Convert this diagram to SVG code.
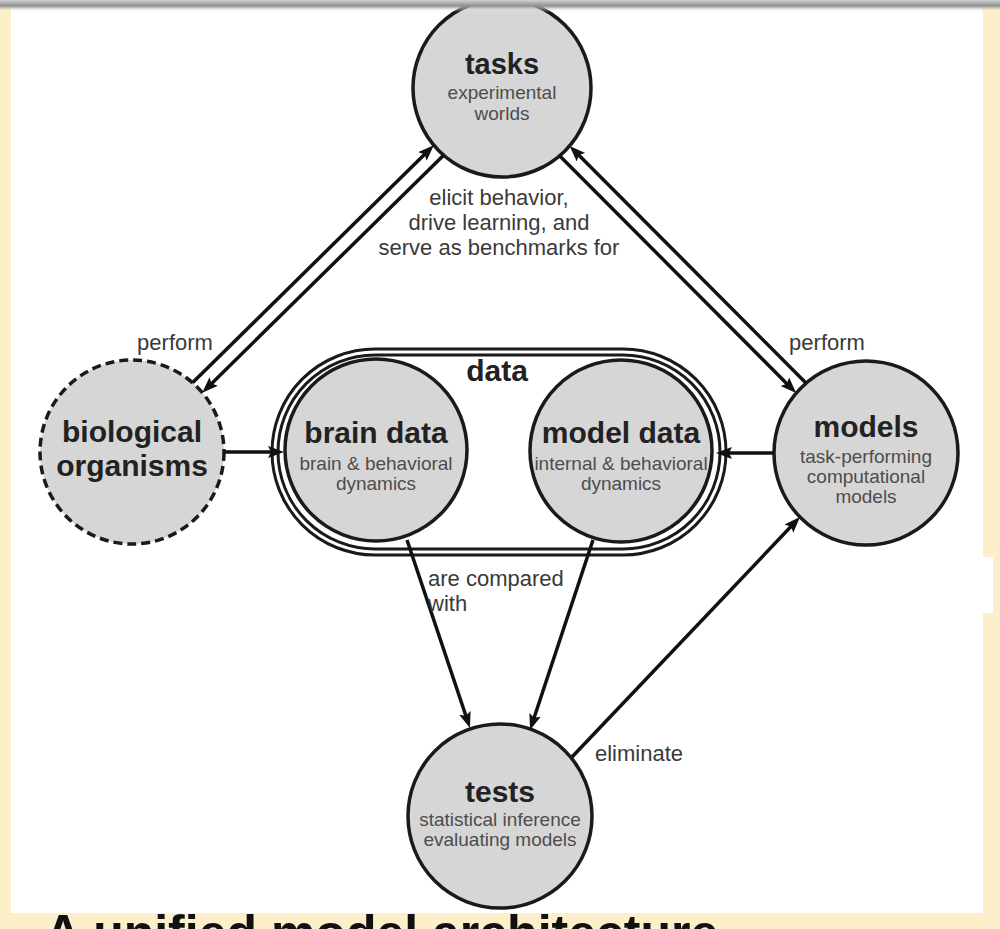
<svg xmlns="http://www.w3.org/2000/svg" width="1000" height="929" viewBox="0 0 1000 929">
  <defs>
    <linearGradient id="topbar" x1="0" y1="0" x2="0" y2="1">
      <stop offset="0" stop-color="#cfcfcf"/>
      <stop offset="0.5" stop-color="#8f8f8f"/>
      <stop offset="1" stop-color="#ffffff" stop-opacity="0"/>
    </linearGradient>
    <marker id="arr" markerUnits="userSpaceOnUse" markerWidth="18" markerHeight="14" refX="6" refY="6" orient="auto">
      <path d="M0,0 L16,6 L0,12 L3,6 z" fill="#111"/>
    </marker>
    <style>
      .node { fill: #d6d6d6; stroke: #1a1a1a; stroke-width: 3.5; }
      .dashed { stroke-dasharray: 9 5; }
      .title { font-family: "Liberation Sans", Arial, sans-serif; font-weight: bold; font-size: 30px; fill: #222; text-anchor: middle; }
      .sub { font-family: "Liberation Sans", Arial, sans-serif; font-size: 19px; fill: #4d4d4d; text-anchor: middle; }
      .lbl { font-family: "Liberation Sans", Arial, sans-serif; font-size: 22px; fill: #3a3a3a; }
      .conn { stroke: #111; stroke-width: 3.5; fill: none; marker-end: url(#arr); }
    </style>
  </defs>

  <!-- background -->
  <rect x="0" y="0" width="1000" height="929" fill="#fcefc9"/>
  <rect x="11" y="0" width="972" height="913" fill="#ffffff"/>
  <rect x="983" y="557" width="10" height="56" fill="#ffffff"/>

  <!-- data container -->
  <g id="data">
    <rect x="275" y="352" width="448" height="200" rx="100" ry="100" fill="#ffffff" stroke="#1a1a1a" stroke-width="9"/>
    <rect x="275" y="352" width="448" height="200" rx="100" ry="100" fill="none" stroke="#ffffff" stroke-width="3"/>
    <text class="title" x="497" y="381">data</text>
  </g>

  <g id="tasks">
    <circle class="node" cx="502" cy="88" r="89"/>
    <text class="title" x="502" y="74" style="font-size:29px">tasks</text>
    <text class="sub" x="502" y="99">experimental</text>
    <text class="sub" x="502" y="120">worlds</text>
  </g>

  <g id="biological-organisms">
    <circle class="node dashed" cx="132" cy="452" r="92"/>
    <text class="title" x="132" y="442">biological</text>
    <text class="title" x="132" y="476">organisms</text>
  </g>

  <g id="brain-data">
    <circle class="node" cx="376" cy="450" r="91"/>
    <text class="title" x="376" y="443">brain data</text>
    <text class="sub" x="376" y="470">brain &amp; behavioral</text>
    <text class="sub" x="376" y="490">dynamics</text>
  </g>

  <g id="model-data">
    <circle class="node" cx="621" cy="451" r="91"/>
    <text class="title" x="621" y="443">model data</text>
    <text class="sub" x="621" y="470">internal &amp; behavioral</text>
    <text class="sub" x="621" y="490">dynamics</text>
  </g>

  <g id="models">
    <circle class="node" cx="866" cy="453" r="92"/>
    <text class="title" x="866" y="437">models</text>
    <text class="sub" x="866" y="463">task-performing</text>
    <text class="sub" x="866" y="483">computational</text>
    <text class="sub" x="866" y="503">models</text>
  </g>

  <g id="tests">
    <circle class="node" cx="500" cy="816" r="92"/>
    <text class="title" x="500" y="802">tests</text>
    <text class="sub" x="500" y="826">statistical inference</text>
    <text class="sub" x="500" y="846">evaluating models</text>
  </g>

  <!-- connectors -->
  <g id="connectors">
    <line class="conn" x1="192.5" y1="382.7" x2="426.7" y2="152.2"/>
    <line class="conn" x1="443.6" y1="155.2" x2="209.4" y2="385.7"/>
    <line class="conn" x1="806.2" y1="383.2" x2="576.7" y2="153.0"/>
    <line class="conn" x1="559.6" y1="155.7" x2="789.1" y2="385.9"/>
    <line class="conn" x1="224" y1="452" x2="274" y2="452"/>
    <line class="conn" x1="774" y1="453" x2="726" y2="453"/>
    <line class="conn" x1="407" y1="540" x2="466.8" y2="718.5"/>
    <line class="conn" x1="593" y1="540" x2="533.2" y2="720.5"/>
    <line class="conn" x1="572" y1="757" x2="793.1" y2="524.3"/>
  </g>

  <!-- connector labels -->
  <g id="labels">
    <text class="lbl" x="175" y="350" text-anchor="middle">perform</text>
    <text class="lbl" x="827" y="350" text-anchor="middle">perform</text>
    <text class="lbl" x="499" y="205" text-anchor="middle">elicit behavior,</text>
    <text class="lbl" x="499" y="230" text-anchor="middle">drive learning, and</text>
    <text class="lbl" x="499" y="255" text-anchor="middle">serve as benchmarks for</text>
    <text class="lbl" x="428" y="586">are compared</text>
    <text class="lbl" x="428" y="611">with</text>
    <text class="lbl" x="595" y="761">eliminate</text>
  </g>

  <!-- cut-off caption at bottom (only its top shows in the picture) -->
  <text x="45" y="950" style="font-family:'Liberation Sans', Arial, sans-serif; font-weight:bold; font-size:50px; fill:#111">A unified model architecture</text>

  <!-- top bar -->
  <rect x="0" y="0" width="1000" height="12" fill="url(#topbar)"/>
</svg>
